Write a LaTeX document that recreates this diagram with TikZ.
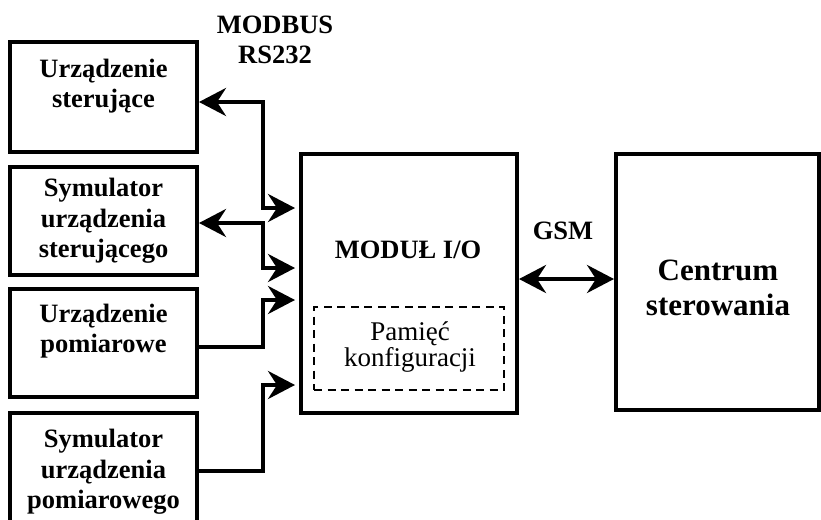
\documentclass[tikz,border=0pt]{standalone}
\usepackage{fontspec}
\setmainfont{Liberation Serif}
\usetikzlibrary{arrows.meta}
\begin{document}
\begin{tikzpicture}[x=1pt,y=-1pt,
  box/.style={draw, line width=4pt, rectangle, inner sep=0pt},
  memo/.style={draw, line width=2.5pt, dash pattern=on 8pt off 5.5pt, rectangle, inner sep=0pt},
  lbl/.style={align=center, font=\fontsize{26.5}{30.5}\selectfont\bfseries, inner sep=0pt},
  lblbig/.style={align=center, font=\fontsize{31}{35}\selectfont\bfseries, inner sep=0pt},
  lblreg/.style={align=center, font=\fontsize{27}{26}\selectfont, inner sep=0pt},
  link/.style={line width=4pt, >={Stealth[length=27pt,width=28pt,inset=9pt]}}]
\useasboundingbox (0,0) rectangle (821,519);

% left-hand devices
\node[box, minimum width=187pt, minimum height=110pt] (b1) at (103.5,97) {};
\node[box, minimum width=187pt, minimum height=108pt] (b2) at (103.5,221) {};
\node[box, minimum width=187pt, minimum height=108pt] (b3) at (103.5,343) {};
\node[box, minimum width=187pt, minimum height=116pt] (b4) at (103.5,471) {};

\node[lbl] (t1) at (103.5,86) {Urządzenie\\sterujące};
\node[lbl] (t2) at (103.5,221) {Symulator\\urządzenia\\sterującego};
\node[lbl] (t3) at (103.5,331) {Urządzenie\\pomiarowe};
\node[lbl] (t4) at (103.5,472) {Symulator\\urządzenia\\pomiarowego};

% I/O module with its configuration memory
\node[box, minimum width=216pt, minimum height=259pt] (m) at (409,283.5) {};
\node[lbl] (tm) at (408,250) {MODUŁ I/O};
\node[memo, minimum width=190pt, minimum height=83pt] (mem) at (409,348.5) {};
\node[lblreg] (tmem) at (410,347) {Pamięć\\konfiguracji};

% control centre
\node[box, minimum width=203pt, minimum height=256pt] (c) at (717.5,282) {};
\node[lblbig] (tc) at (718,288) {Centrum\\sterowania};

% link labels
\node[lbl] (bus) at (275,40) {MODBUS\\RS232};
\node[lbl] (gsm) at (563,231) {GSM};

% routing points of the serial links
\coordinate (y1) at (0,102);
\coordinate (y1m) at (0,208);
\coordinate (y2) at (0,223);
\coordinate (y2m) at (0,268);
\coordinate (y3) at (0,347);
\coordinate (y3m) at (0,300);
\coordinate (y4) at (0,471);
\coordinate (y4m) at (0,385);
\coordinate (xb) at (263,0);
\coordinate (yg) at (0,279);

\draw[link,<->] (b1.east |- y1) -- (xb |- y1) -- (xb |- y1m) -- ([xshift=-4pt]m.west |- y1m);
\draw[link,<->] (b2.east |- y2) -- (xb |- y2) -- (xb |- y2m) -- ([xshift=-4pt]m.west |- y2m);
\draw[link,->] (b3.east |- y3) -- (xb |- y3) -- (xb |- y3m) -- ([xshift=-4pt]m.west |- y3m);
\draw[link,->] (b4.east |- y4) -- (xb |- y4) -- (xb |- y4m) -- ([xshift=-4pt]m.west |- y4m);

\draw[link,<->] (m.east |- yg) -- (c.west |- yg);
\end{tikzpicture}
\end{document}
